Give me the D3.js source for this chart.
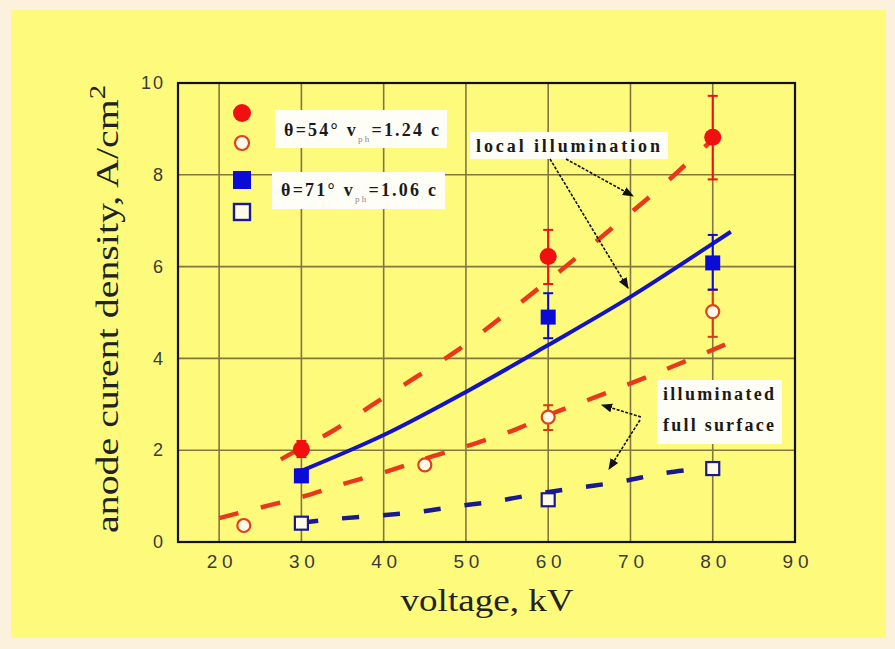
<!DOCTYPE html>
<html>
<head>
<meta charset="utf-8">
<script src="https://cdn.jsdelivr.net/npm/d3@7"></script>
<style>
  html, body { margin: 0; padding: 0; background: #fbf1dd; }
  svg { display: block; }
</style>
</head>
<body>
<script>
// Measured anode current density vs. accelerating voltage
const xTicks = [20, 30, 40, 50, 60, 70, 80, 90];
const yTicks = [0, 2, 4, 6, 8, 10];

// theta = 54 deg, local illumination (filled circles)
const kv54Local = [30, 60, 80];
const j54Local = [2.02, 6.22, 8.82];
const err54Local = [[1.85, 2.2], [5.62, 6.8], [7.9, 9.72]];

// theta = 54 deg, illuminated full surface (open circles)
const kv54Full = [23, 45, 60, 80];
const j54Full = [0.36, 1.68, 2.72, 5.02];
const err54Full = [null, null, [2.44, 2.98], [4.47, 5.49]];

// theta = 71 deg, local illumination (filled squares)
const kv71Local = [30, 60, 80];
const j71Local = [1.44, 4.9, 6.08];
const err71Local = [[1.32, 1.58], [4.44, 5.42], [5.5, 6.69]];

// theta = 71 deg, illuminated full surface (open squares)
const kv71Full = [30, 60, 80];
const j71Full = [0.41, 0.92, 1.6];

// Trend curves
const fit54LocalKv = [27.5, 30, 34, 39, 44, 49, 54, 59, 64, 69, 74, 78.5, 80.5];
const fit54LocalJ  = [1.8, 2.05, 2.44, 3.03, 3.6, 4.18, 4.85, 5.55, 6.28, 7.02, 7.78, 8.52, 8.85];
const fit54FullKv = [20, 25, 30, 35, 41, 46, 51, 56, 60.5, 65.5, 70.5, 75.5, 81.5];
const fit54FullJ  = [0.52, 0.75, 0.98, 1.26, 1.57, 1.87, 2.14, 2.45, 2.8, 3.14, 3.49, 3.85, 4.3];
const fit71LocalKv = [30, 40, 50, 60, 70, 80, 82.2];
const fit71LocalJ  = [1.55, 2.33, 3.27, 4.29, 5.34, 6.5, 6.76];
const fit71FullKv = [30, 34, 39, 44, 49, 54, 59, 64, 69, 74, 80];
const fit71FullJ  = [0.42, 0.5, 0.57, 0.65, 0.78, 0.9, 1.06, 1.19, 1.32, 1.5, 1.63];

const legendLabels = [
  { theta: "θ=54°", v: "=1.24 c" },
  { theta: "θ=71°", v: "=1.06 c" }
];

const W = 895, H = 649;
const red = "#f01010", redLine = "#e8391c", blue = "#0b0bd8", blueLine = "#1414c0", navy = "#1a1a8e";
const grid = "#827642";
const serif = "Liberation Serif, Times New Roman, serif";

const svg = d3.select("body").append("svg").attr("width", W).attr("height", H);

// arrowhead
svg.append("defs").append("marker")
  .attr("id", "arr").attr("viewBox", "0 0 10 10").attr("refX", 9).attr("refY", 5)
  .attr("markerWidth", 7).attr("markerHeight", 7).attr("orient", "auto-start-reverse")
  .append("path").attr("d", "M0,1 L10,5 L0,9 z").attr("fill", "#111");

// yellow panel
svg.append("rect").attr("x", 11).attr("y", 10).attr("width", 875).attr("height", 628).attr("fill", "#fefa7c");

const x = d3.scaleLinear().domain([15, 90]).range([178, 795]);
const y = d3.scaleLinear().domain([0, 10]).range([542, 83]);

// grid
const g = svg.append("g");
g.selectAll("line.vg").data(xTicks.filter(t => t < 90)).join("line")
  .attr("x1", d => x(d)).attr("x2", d => x(d)).attr("y1", y(0)).attr("y2", y(10))
  .attr("stroke", grid).attr("stroke-width", 1.6);
g.selectAll("line.hg").data(yTicks.filter(t => t > 0 && t < 10)).join("line")
  .attr("x1", x(15)).attr("x2", x(90)).attr("y1", d => y(d)).attr("y2", d => y(d))
  .attr("stroke", grid).attr("stroke-width", 1.6);

// axes
const xa = svg.append("g").attr("transform", `translate(0,${y(0)})`)
  .call(d3.axisBottom(x).tickValues(xTicks).tickSize(0).tickPadding(13));
const ya = svg.append("g").attr("transform", `translate(${x(15)},0)`)
  .call(d3.axisLeft(y).tickValues(yTicks).tickSize(0).tickPadding(15));
[xa, ya].forEach(a => {
  a.select(".domain").remove();
  a.selectAll("text").attr("font-family", "Liberation Sans, Arial, sans-serif")
    .attr("font-size", 19).attr("fill", "#3a3a3a");
});
xa.selectAll("text").attr("textLength", 26).attr("lengthAdjust", "spacing");
ya.selectAll("text").attr("font-size", 18);
ya.selectAll("text").filter(d => d >= 10).attr("textLength", 22).attr("lengthAdjust", "spacing");

// frame
svg.append("rect").attr("x", x(15)).attr("y", y(10)).attr("width", x(90) - x(15)).attr("height", y(0) - y(10))
  .attr("fill", "none").attr("stroke", "#111").attr("stroke-width", 2.2);

// axis titles
svg.append("text").attr("x", 487).attr("y", 611).attr("text-anchor", "middle")
  .attr("font-family", serif).attr("font-size", 31).attr("fill", "#222")
  .attr("textLength", 173).attr("lengthAdjust", "spacingAndGlyphs").text("voltage, kV");

const yt = svg.append("text").attr("transform", "translate(118,309) rotate(-90)").attr("text-anchor", "middle")
  .attr("font-family", serif).attr("font-size", 32).attr("fill", "#222")
  .attr("textLength", 448).attr("lengthAdjust", "spacingAndGlyphs");
yt.append("tspan").text("anode curent density, A/cm");
yt.append("tspan").attr("font-size", 23).attr("dy", -13).text("2");

// trend curves
const zip = (a, b) => a.map((v, i) => [v, b[i]]);
const line = d3.line().x(d => x(d[0])).y(d => y(d[1])).curve(d3.curveCatmullRom);
const curves = [
  { pts: zip(fit71FullKv, fit71FullJ), color: navy, dash: "17,24", w: 4.5 },
  { pts: zip(fit54FullKv, fit54FullJ), color: redLine, dash: "20,23", w: 4.5 },
  { pts: zip(fit54LocalKv, fit54LocalJ), color: redLine, dash: "21,27", w: 4.5 },
  { pts: zip(fit71LocalKv, fit71LocalJ), color: blueLine, dash: null, w: 4 }
];
svg.selectAll("path.fit").data(curves).join("path")
  .attr("d", d => line(d.pts)).attr("fill", "none")
  .attr("stroke", d => d.color).attr("stroke-width", d => d.w)
  .attr("stroke-dasharray", d => d.dash);

// error bars
function errorBars(kvs, errs, color) {
  const data = kvs.map((k, i) => ({ k, e: errs[i] })).filter(d => d.e);
  const eg = svg.append("g").attr("stroke", color).attr("stroke-width", 2);
  eg.selectAll("line.v").data(data).join("line")
    .attr("x1", d => x(d.k)).attr("x2", d => x(d.k)).attr("y1", d => y(d.e[0])).attr("y2", d => y(d.e[1]));
  eg.selectAll("line.lo").data(data).join("line")
    .attr("x1", d => x(d.k) - 5).attr("x2", d => x(d.k) + 5).attr("y1", d => y(d.e[0])).attr("y2", d => y(d.e[0]));
  eg.selectAll("line.hi").data(data).join("line")
    .attr("x1", d => x(d.k) - 5).attr("x2", d => x(d.k) + 5).attr("y1", d => y(d.e[1])).attr("y2", d => y(d.e[1]));
}
errorBars(kv54Local, err54Local, red);
errorBars(kv54Full, err54Full, "#d83a14");
errorBars(kv71Local, err71Local, blue);

// markers
svg.append("g").selectAll("circle").data(zip(kv54Full, j54Full)).join("circle")
  .attr("cx", d => x(d[0])).attr("cy", d => y(d[1])).attr("r", 6.5)
  .attr("fill", "#fffbe8").attr("stroke", "#e0401a").attr("stroke-width", 2.2);
svg.append("g").selectAll("rect").data(zip(kv71Full, j71Full)).join("rect")
  .attr("x", d => x(d[0]) - 6.5).attr("y", d => y(d[1]) - 6.5).attr("width", 13).attr("height", 13)
  .attr("fill", "#fffbe8").attr("stroke", navy).attr("stroke-width", 2.2);
svg.append("g").selectAll("rect").data(zip(kv71Local, j71Local)).join("rect")
  .attr("x", d => x(d[0]) - 7.5).attr("y", d => y(d[1]) - 7.5).attr("width", 15).attr("height", 15)
  .attr("fill", blue);
svg.append("g").selectAll("circle").data(zip(kv54Local, j54Local)).join("circle")
  .attr("cx", d => x(d[0])).attr("cy", d => y(d[1])).attr("r", 8.5).attr("fill", red);

// legend
const lg = svg.append("g");
lg.append("circle").attr("cx", 242).attr("cy", 113).attr("r", 9).attr("fill", red);
lg.append("circle").attr("cx", 242).attr("cy", 143).attr("r", 7).attr("fill", "#fffbe8").attr("stroke", "#e0401a").attr("stroke-width", 2.2);
lg.append("rect").attr("x", 233).attr("y", 171).attr("width", 18).attr("height", 18).attr("fill", blue);
lg.append("rect").attr("x", 234).attr("y", 204).attr("width", 16).attr("height", 16).attr("fill", "#fffbe8").attr("stroke", navy).attr("stroke-width", 2.4);

const boxes = [{ bx: 275, by: 110, bw: 172, bh: 38, ty: 136 }, { bx: 272, by: 172, bw: 173, bh: 37, ty: 196 }];
legendLabels.forEach((l, i) => {
  const b = boxes[i];
  lg.append("rect").attr("x", b.bx).attr("y", b.by).attr("width", b.bw).attr("height", b.bh).attr("fill", "#fffef6");
  const t = lg.append("text").attr("x", b.bx + 9).attr("y", b.ty)
    .attr("font-family", serif).attr("font-size", 18).attr("font-weight", "bold").attr("fill", "#1a1a1a")
    .attr("textLength", 155).attr("lengthAdjust", "spacing");
  t.append("tspan").text(l.theta + "  v");
  t.append("tspan").attr("font-size", 9).attr("font-weight", "normal").attr("fill", "#888").attr("dy", 6).text("ph");
  t.append("tspan").attr("dy", -6).text(l.v);
});

// annotations
function note(bx, by, bw, bh, lines, lineGap) {
  svg.append("rect").attr("x", bx).attr("y", by).attr("width", bw).attr("height", bh).attr("fill", "#fffef6");
  lines.forEach((s, i) => {
    svg.append("text").attr("x", bx + 6).attr("y", by + 20 + i * lineGap)
      .attr("font-family", serif).attr("font-size", 18).attr("font-weight", "bold")
      .attr("fill", "#1a1a1a").attr("textLength", bw - 14).attr("lengthAdjust", "spacing").text(s);
  });
}
note(470, 132, 198, 27, ["local illumination"], 0);
note(657, 380, 125, 64, ["illuminated", "full surface"], 31);

const arrows = [
  [566, 159, 633, 196], [550, 159, 628, 288],
  [641, 417, 602, 405], [640, 420, 609, 469]
];
svg.selectAll("line.arrow").data(arrows).join("line")
  .attr("x1", d => d[0]).attr("y1", d => d[1]).attr("x2", d => d[2]).attr("y2", d => d[3])
  .attr("stroke", "#111").attr("stroke-width", 1.6).attr("stroke-dasharray", "3,1.5").attr("marker-end", "url(#arr)");
</script>
</body>
</html>
